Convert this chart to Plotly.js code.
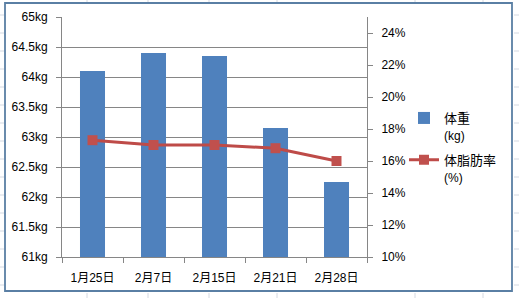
<!DOCTYPE html>
<html>
<head>
<meta charset="utf-8">
<script src="https://cdn.plot.ly/plotly-3.0.1.min.js"></script>
<style>html,body{margin:0;padding:0;background:#fff;}#chart{width:519px;height:298px;}</style>
</head>
<body>
<div id="chart"></div>
<script>
var categories = ["1月25日", "2月7日", "2月15日", "2月21日", "2月28日"];
var weightKg = [64.1, 64.4, 64.35, 63.15, 62.25];
var bodyFatPct = [0.173, 0.170, 0.170, 0.168, 0.160];
var weightName = "体重<br><span style=\"font-size:12px\">(kg)</span>";
var fatName = "体脂肪率<br><span style=\"font-size:12px\">(%)</span>";

var W = 519, H = 298, ML = 62, MR = 152, MT = 17, MB = 41;
var PW = W - ML - MR, PH = H - MT - MB;
function px(x) { return (x - ML) / PW; }
function py(y) { return (H - MB - y) / PH; }

var shapes = [];
var cellGrid = "#d4d9e2";
for (var y = 15; y <= 291; y += 18) {
  shapes.push({type: "line", xref: "paper", yref: "paper", x0: px(0), x1: px(4), y0: py(y), y1: py(y), line: {color: cellGrid, width: 1}});
  shapes.push({type: "line", xref: "paper", yref: "paper", x0: px(514), x1: px(519), y0: py(y), y1: py(y), line: {color: cellGrid, width: 1}});
}
[87, 148, 209, 277, 415, 483].forEach(function (x) {
  shapes.push({type: "line", xref: "paper", yref: "paper", x0: px(x), x1: px(x), y0: py(0), y1: py(2), line: {color: cellGrid, width: 1}});
  shapes.push({type: "line", xref: "paper", yref: "paper", x0: px(x), x1: px(x), y0: py(293), y1: py(298), line: {color: cellGrid, width: 1}});
});
shapes.push({type: "rect", xref: "paper", yref: "paper", x0: px(5), x1: px(512), y0: py(3), y1: py(291), line: {color: "#5a7fa4", width: 1.8}, fillcolor: "rgba(0,0,0,0)"});

var font = "Liberation Sans, Noto Sans CJK JP, sans-serif";

var data = [
  {type: "bar", x: categories, y: weightKg, name: weightName, legendgroup: "a", marker: {color: "#4f81bd"}, yaxis: "y"},
  {type: "scatter", mode: "lines+markers", x: categories, y: bodyFatPct, name: fatName, legendgroup: "b", yaxis: "y2",
   line: {color: "#be4b48", width: 3}, marker: {symbol: "square", size: 10, color: "#c0504d"}}
];

var layout = {
  width: W, height: H,
  margin: {l: ML, r: MR, t: MT, b: MB, pad: 0},
  paper_bgcolor: "#ffffff", plot_bgcolor: "#ffffff",
  font: {family: font, size: 11, color: "#000000"},
  bargap: 0.59,
  showlegend: true,
  legend: {x: px(404), xanchor: "left", y: py(103), yanchor: "top", font: {size: 13}, traceorder: "grouped", tracegroupgap: 5, valign: "top", bgcolor: "rgba(0,0,0,0)", itemwidth: 30},
  xaxis: {type: "category", showline: true, linecolor: "#868686", linewidth: 1, ticks: "outside", tickson: "boundaries", ticklen: 5, tickcolor: "#868686", showgrid: false, tickfont: {size: 12}, ticklabelstandoff: 10},
  yaxis: {range: [61, 65], dtick: 0.5, tick0: 61, ticksuffix: "kg", showline: true, linecolor: "#868686", ticks: "outside", ticklen: 5, tickcolor: "#868686", gridcolor: "#868686", gridwidth: 1, zeroline: false, tickfont: {size: 12}, ticklabelstandoff: 6},
  yaxis2: {overlaying: "y", side: "right", range: [0.10, 0.25], dtick: 0.02, tick0: 0.10, tickformat: ".0%", showline: true, linecolor: "#868686", ticks: "outside", ticklen: 5, tickcolor: "#868686", showgrid: false, zeroline: false, tickfont: {size: 12}, ticklabelstandoff: 6},
  shapes: shapes
};

Plotly.newPlot("chart", data, layout, {displayModeBar: false, staticPlot: true});
</script>
</body>
</html>
